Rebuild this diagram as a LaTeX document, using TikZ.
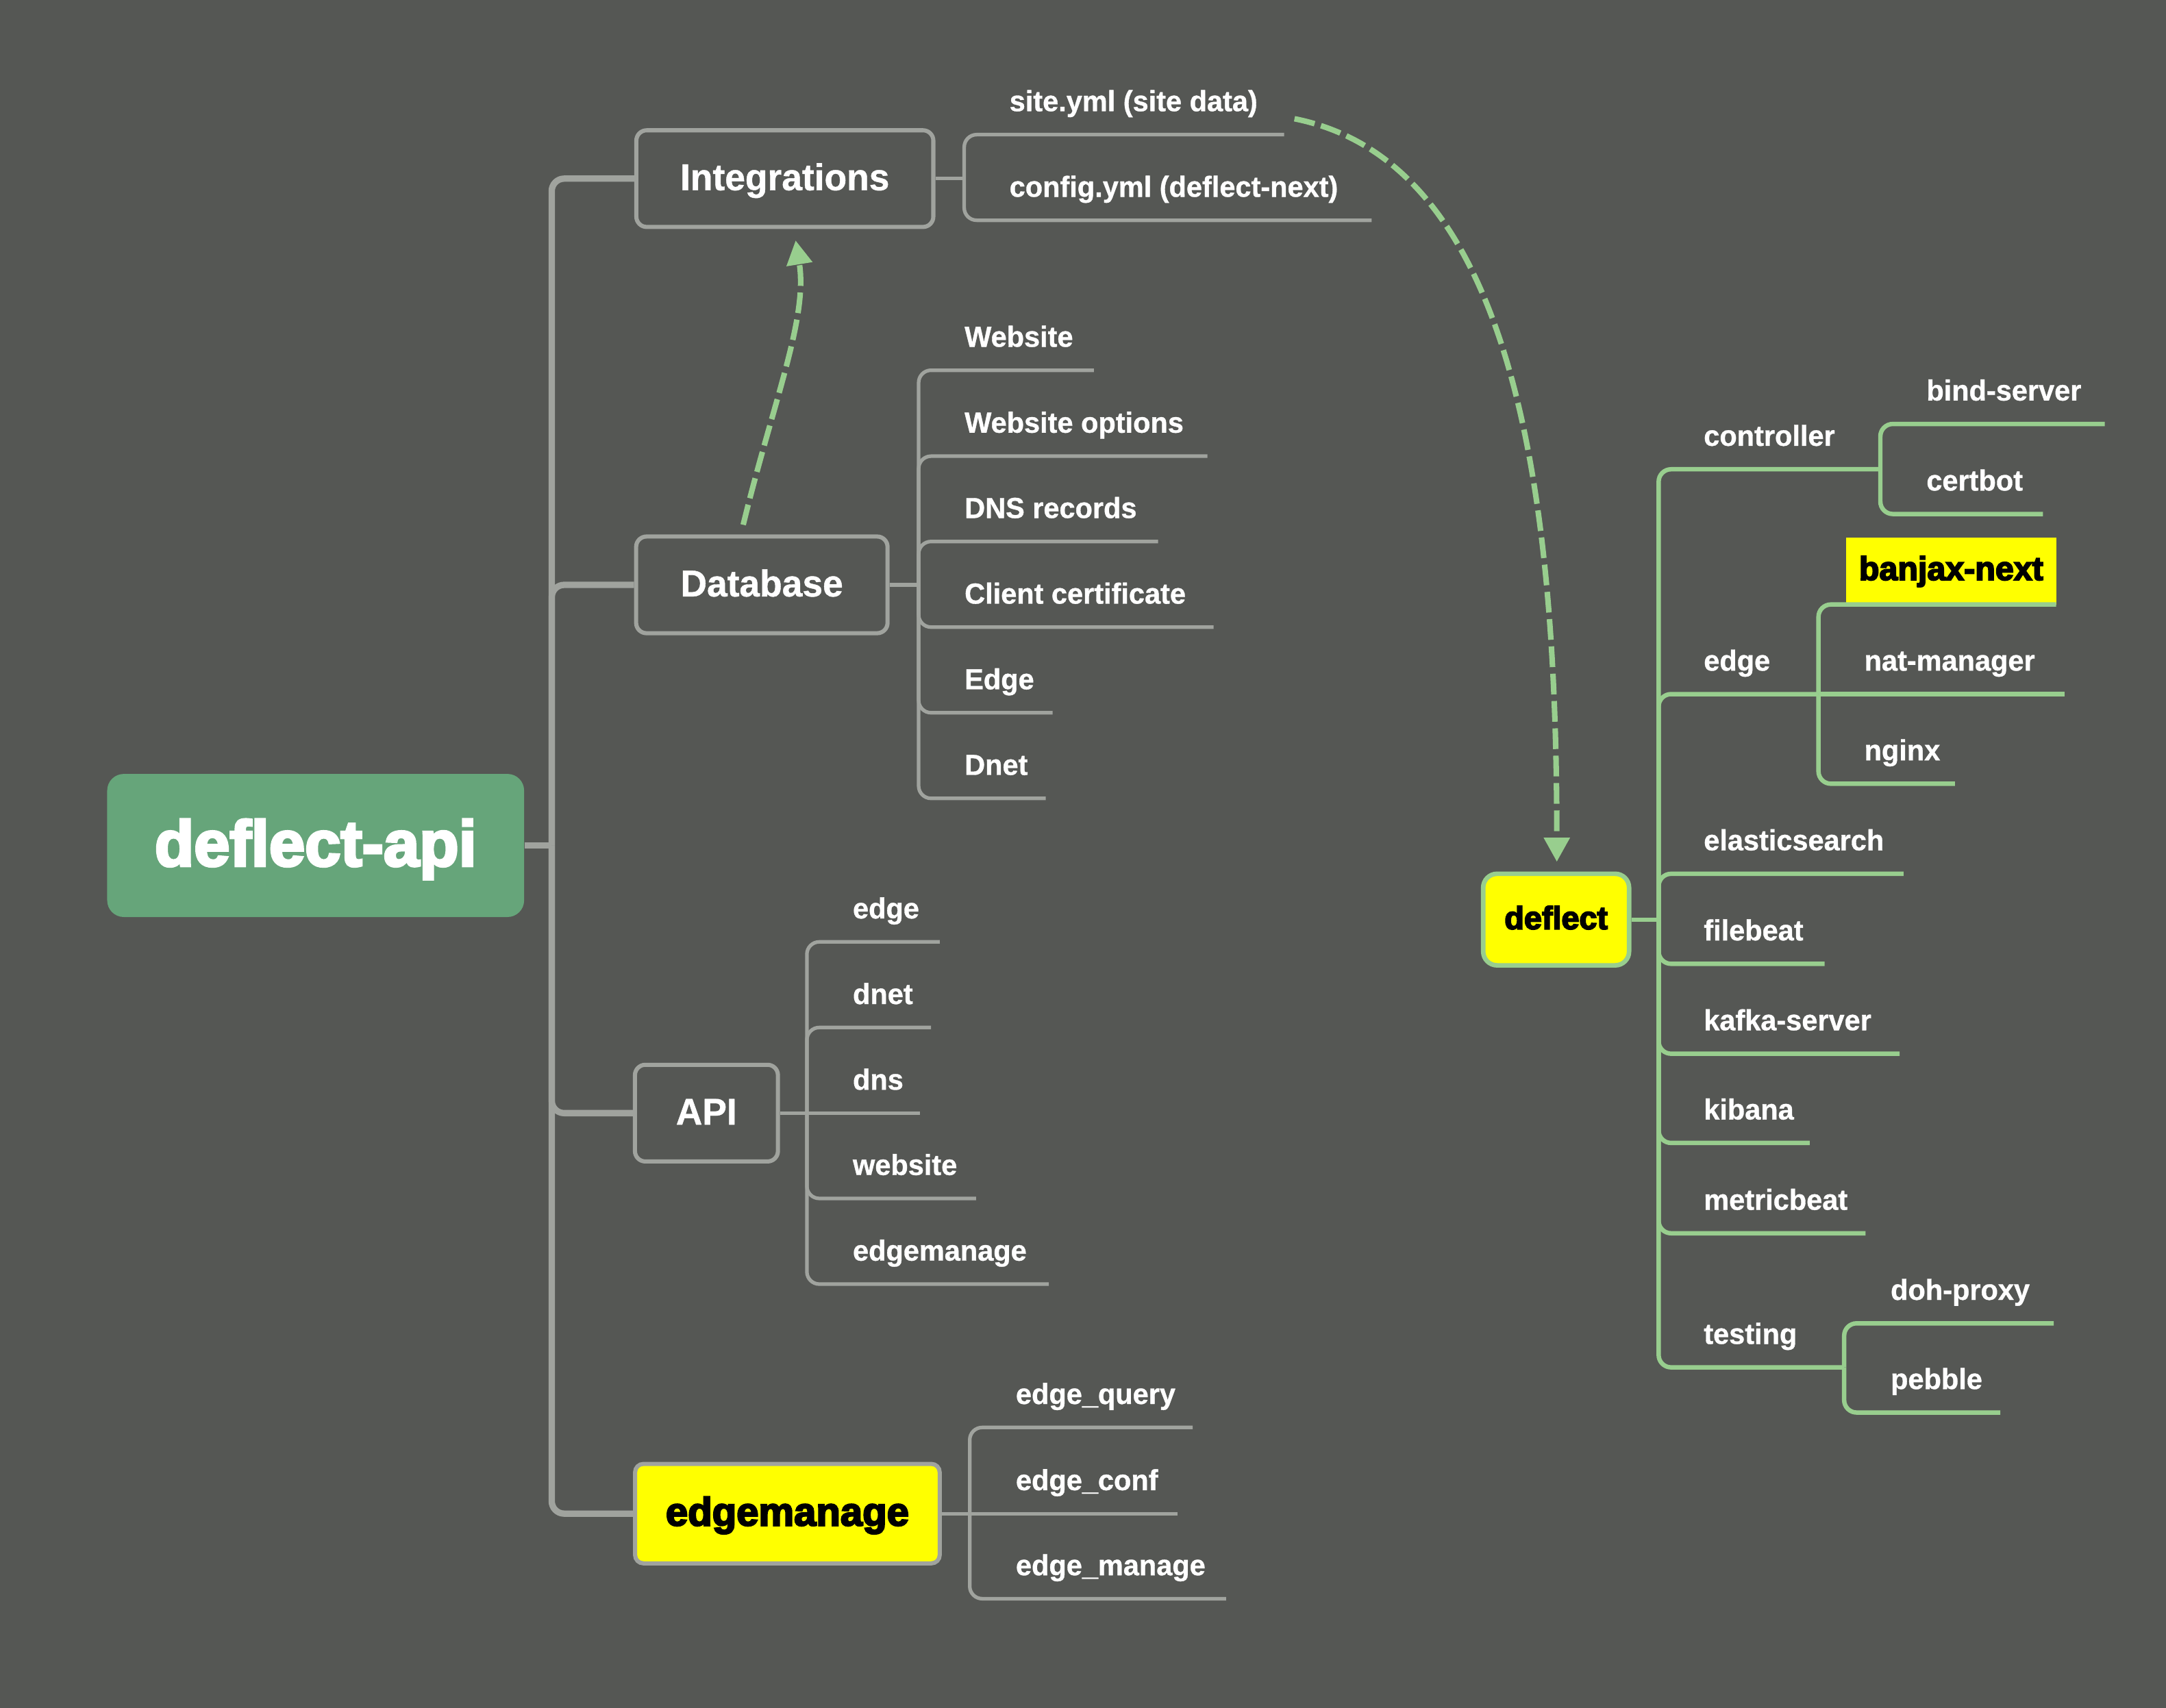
\documentclass[tikz,border=0pt]{standalone}
\usepackage{fontspec}
\usetikzlibrary{arrows.meta}
\newfontfamily\itemfont{Liberation Sans}[FakeStretch=0.98, FakeBold=0.8]
\newfontfamily\heavyfont{Liberation Sans Bold}[FakeBold=4]
\definecolor{bgcol}{RGB}{85,87,84}
\definecolor{glinecol}{RGB}{160,163,158}
\definecolor{gnlinecol}{RGB}{152,206,142}
\definecolor{gboxcol}{RGB}{102,165,122}
\definecolor{yboxcol}{RGB}{255,255,0}
\begin{document}
\begin{tikzpicture}[x=0.5pt,y=-0.5pt,
  item/.style={font={\itemfont\bfseries\fontsize{10.5pt}{12pt}\selectfont}, text=white, anchor=base west, inner sep=0pt},
  graybranch/.style={draw=glinecol, line width=1.3pt, rounded corners=4.5pt},
  trunkline/.style={draw=glinecol, line width=2.3pt, rounded corners=4.5pt},
  greenbranch/.style={draw=gnlinecol, line width=1.6pt, rounded corners=4.5pt},
  dasharrow/.style={draw=gnlinecol, line width=2pt, dash pattern=on 7.5pt off 2.4pt, -{Triangle[length=8.75pt,width=9pt]}},
  mainbox/.style={draw=glinecol, line width=1.5pt, rounded corners=3.75pt, text=white, font={\itemfont\bfseries\fontsize{13.5pt}{16pt}\selectfont}, inner sep=0pt, text height=9.85pt, text depth=1.5pt, minimum height=35pt},
  yellowmain/.style={draw=glinecol, fill=yboxcol, line width=1.5pt, rounded corners=3pt, text=black, font={\heavyfont\fontsize{14.4pt}{16pt}\selectfont}, inner sep=0pt, text height=10.4pt, text depth=1.75pt, minimum height=36pt},
  titlebox/.style={fill=gboxcol, rounded corners=6pt, text=white, font={\heavyfont\fontsize{23.3pt}{26pt}\selectfont}, inner sep=0pt, text height=16.7pt, text depth=1.9pt, minimum width=150.9pt, minimum height=51.8pt},
  deflectbox/.style={draw=gnlinecol, fill=yboxcol, line width=1.65pt, rounded corners=5pt, text=black, font={\heavyfont\fontsize{11.6pt}{13pt}\selectfont}, inner sep=0pt, text height=8.34pt, text depth=1.44pt, minimum width=52.8pt, minimum height=33.15pt},
  banjaxbox/.style={fill=yboxcol, text=black, font={\heavyfont\fontsize{12pt}{14pt}\selectfont}, inner sep=0pt, text height=8.6pt, text depth=2.2pt, minimum width=76pt, minimum height=24.1pt}
]
\fill[bgcol] (0,0) rectangle (1568,1236.75);
\useasboundingbox (0,0) rectangle (1568,1236.75);

% ---------- main nodes ----------
\node[titlebox] (deflectapi) at (228.5,612.2) {deflect-api};
\node[mainbox, minimum width=107.5pt] (integrations) at (568.15,129.35) {Integrations};
\node[mainbox, minimum width=91pt] (database) at (551.5,423.5) {Database};
\node[mainbox, minimum width=51.75pt] (api) at (511.4,806) {API};
\node[yellowmain, minimum width=110.25pt] (edgemanage) at (570,1096) {edgemanage};
\node[deflectbox] (deflect) at (1126.5,665.85) {deflect};
\node[banjaxbox] (banjaxnext) at (1412.45,413.6) {banjax-next};

% ---------- trunk ----------
\coordinate (trunk) at (399.4,612.2);
\draw[trunkline] (deflectapi.east) -- (trunk);
\draw[trunkline] (trunk) |- (integrations.west);
\draw[trunkline] (trunk) |- (database.west);
\draw[trunkline] (trunk) |- (api.west);
\draw[trunkline] (trunk) |- (edgemanage.west);

% ---------- Integrations ----------
\coordinate (ifork) at (698,129.35);
\draw[graybranch] (integrations.east) -- (ifork);
\node[item] (t-site) at (730.4,80.5) {site.yml (site data)};
\coordinate (u-site) at (929.6,97.5);
\draw[graybranch] (ifork) |- (u-site);
\node[item] (t-config) at (730.4,142.5) {config.yml (deflect-next)};
\coordinate (u-config) at (992.9,159.5);
\draw[graybranch] (ifork) |- (u-config);

% ---------- Database ----------
\coordinate (dbfork) at (665,423.5);
\draw[graybranch] (database.east) -- (dbfork);
\node[item] (t-website) at (697.9,251.1) {Website};
\coordinate (u-website) at (791.8,268.1);
\draw[graybranch] (dbfork) |- (u-website);
\node[item] (t-webopt) at (697.9,313.3) {Website options};
\coordinate (u-webopt) at (874,330.3);
\draw[graybranch] (dbfork) |- (u-webopt);
\node[item] (t-dnsrec) at (697.9,375.1) {DNS records};
\coordinate (u-dnsrec) at (838.4,392.1);
\draw[graybranch] (dbfork) |- (u-dnsrec);
\node[item] (t-clientcert) at (697.9,437.1) {Client certificate};
\coordinate (u-clientcert) at (878.5,454.1);
\draw[graybranch] (dbfork) |- (u-clientcert);
\node[item] (t-dbedge) at (697.9,499.1) {Edge};
\coordinate (u-dbedge) at (762,516.1);
\draw[graybranch] (dbfork) |- (u-dbedge);
\node[item] (t-dbdnet) at (697.9,561.1) {Dnet};
\coordinate (u-dbdnet) at (757,578.1);
\draw[graybranch] (dbfork) |- (u-dbdnet);

% ---------- API ----------
\coordinate (apifork) at (584.1,806);
\draw[graybranch] (api.east) -- (apifork);
\node[item] (t-apiedge) at (617,665) {edge};
\coordinate (u-apiedge) at (680.3,682);
\draw[graybranch] (apifork) |- (u-apiedge);
\node[item] (t-apidnet) at (617,727) {dnet};
\coordinate (u-apidnet) at (674,744);
\draw[graybranch] (apifork) |- (u-apidnet);
\node[item] (t-apidns) at (617,789) {dns};
\coordinate (u-apidns) at (666,806);
\draw[graybranch] (apifork) -- (u-apidns);
\node[item] (t-apiweb) at (617,850.8) {website};
\coordinate (u-apiweb) at (706.6,867.8);
\draw[graybranch] (apifork) |- (u-apiweb);
\node[item] (t-apiem) at (617,912.8) {edgemanage};
\coordinate (u-apiem) at (759.2,929.8);
\draw[graybranch] (apifork) |- (u-apiem);

% ---------- edgemanage ----------
\coordinate (emfork) at (702,1096);
\draw[graybranch] (edgemanage.east) -- (emfork);
\node[item] (t-equery) at (735,1016.6) {edge\_query};
\coordinate (u-equery) at (863.4,1033.6);
\draw[graybranch] (emfork) |- (u-equery);
\node[item] (t-econf) at (735,1079) {edge\_conf};
\coordinate (u-econf) at (852.4,1096);
\draw[graybranch] (emfork) -- (u-econf);
\node[item] (t-emanage) at (735,1140.6) {edge\_manage};
\coordinate (u-emanage) at (887.6,1157.6);
\draw[graybranch] (emfork) |- (u-emanage);

% ---------- deflect ----------
\coordinate (dfork) at (1200.7,665.85);
\draw[greenbranch] (deflect.east) -- (dfork);
\node[item] (t-controller) at (1233,322.8) {controller};
\coordinate (cfork) at (1361.2,339.8);
\draw[greenbranch] (dfork) |- (cfork);
\node[item] (t-edge) at (1233,485.6) {edge};
\coordinate (efork) at (1316.4,502.6);
\draw[greenbranch] (dfork) |- (efork);
\node[item] (t-elastic) at (1233,615.7) {elasticsearch};
\coordinate (u-elastic) at (1378,632.7);
\draw[greenbranch] (dfork) |- (u-elastic);
\node[item] (t-filebeat) at (1233,680.9) {filebeat};
\coordinate (u-filebeat) at (1320.9,697.9);
\draw[greenbranch] (dfork) |- (u-filebeat);
\node[item] (t-kafka) at (1233,746) {kafka-server};
\coordinate (u-kafka) at (1375.1,763);
\draw[greenbranch] (dfork) |- (u-kafka);
\node[item] (t-kibana) at (1233,810.6) {kibana};
\coordinate (u-kibana) at (1310,827.6);
\draw[greenbranch] (dfork) |- (u-kibana);
\node[item] (t-metric) at (1233,876) {metricbeat};
\coordinate (u-metric) at (1350.5,893);
\draw[greenbranch] (dfork) |- (u-metric);
\node[item] (t-testing) at (1233,973.1) {testing};
\coordinate (tfork) at (1335,990.1);
\draw[greenbranch] (dfork) |- (tfork);

% controller children
\node[item] (t-bind) at (1394.2,290) {bind-server};
\coordinate (u-bind) at (1523.6,307);
\draw[greenbranch] (cfork) |- (u-bind);
\node[item] (t-certbot) at (1394.2,355.2) {certbot};
\coordinate (u-certbot) at (1478.9,372.2);
\draw[greenbranch] (cfork) |- (u-certbot);

% edge children
\coordinate (u-banjax) at (1488.5,437.7);
\draw[greenbranch] (efork) |- (u-banjax);
\node[item] (t-nat) at (1349.2,485.6) {nat-manager};
\coordinate (u-nat) at (1494.4,502.6);
\draw[greenbranch] (efork) -- (u-nat);
\node[item] (t-nginx) at (1349.2,550.5) {nginx};
\coordinate (u-nginx) at (1415.2,567.5);
\draw[greenbranch] (efork) |- (u-nginx);

% testing children
\node[item] (t-doh) at (1368.3,941.2) {doh-proxy};
\coordinate (u-doh) at (1486.7,958.2);
\draw[greenbranch] (tfork) |- (u-doh);
\node[item] (t-pebble) at (1368.3,1005.8) {pebble};
\coordinate (u-pebble) at (1448,1022.8);
\draw[greenbranch] (tfork) |- (u-pebble);

% ---------- dashed relations ----------
\draw[dasharrow] ([shift={(-13.5,-7)}]database.north) .. controls (560,290) and (585,230) .. ([shift={(7.8,8.2)}]integrations.south);
\draw[dasharrow] ([shift={(7.5,-11.5)}]u-site) .. controls (1097,118) and (1127,360) .. ([shift={(0.5,-7)}]deflect.north);
\end{tikzpicture}
\end{document}
